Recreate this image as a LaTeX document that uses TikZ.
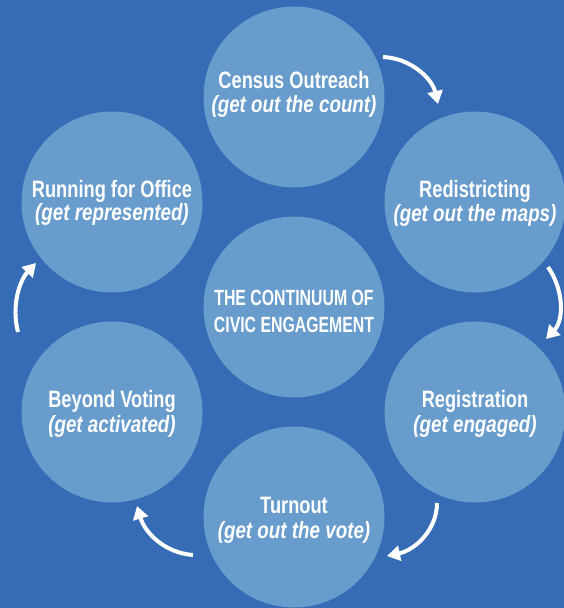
\documentclass[tikz,border=0pt]{standalone}
\usepackage{fontspec}
\usetikzlibrary{arrows.meta}
\newfontfamily\ttlfont[FakeStretch=0.77]{Liberation Sans Bold}
\newfontfamily\subfont[FakeStretch=0.8]{Liberation Sans Bold Italic}
\newfontfamily\capfont[FakeStretch=0.72]{Liberation Sans Bold}
\definecolor{bgblue}{RGB}{54,108,181}
\definecolor{cblue}{RGB}{104,156,204}
\begin{document}
\begin{tikzpicture}[x=1pt,y=-1pt,
  disc/.style={circle, fill=cblue, minimum size=181pt, inner sep=0pt},
  ttl/.style={anchor=base, text=white, font=\ttlfont\fontsize{23.7}{26}\selectfont, inner sep=0pt},
  sub/.style={anchor=base, text=white, font=\subfont\fontsize{23.5}{26}\selectfont, inner sep=0pt},
  captxt/.style={anchor=base, text=white, font=\capfont\fontsize{22}{26}\selectfont, inner sep=0pt},
  flow/.style={white, line width=4pt, -{Triangle[width=15pt,length=13pt]}}]
\useasboundingbox (0,0) rectangle (564,608);
\clip (0,0) rectangle (564,608);
\fill[bgblue] (0,0) rectangle (564,608);
% circles
\node[disc] (census) at (294,97) {};
\node[disc] (redis) at (475,202) {};
\node[disc] (regis) at (475,412) {};
\node[disc] (turn) at (294,517) {};
\node[disc] (beyond) at (112,412) {};
\node[disc] (run) at (112,202) {};
\node[disc] (center) at (294,307) {};
% texts
\node[ttl] (censusT) at (294,88) {Census Outreach};
\node[sub] (censusS) at (294,112) {(get out the count)};
\node[ttl] (redisT) at (475,197) {Redistricting};
\node[sub] (redisS) at (475,221) {(get out the maps)};
\node[ttl] (regisT) at (475,407) {Registration};
\node[sub] (regisS) at (475,432) {(get engaged)};
\node[ttl] (turnT) at (294,513) {Turnout};
\node[sub] (turnS) at (294,538) {(get out the vote)};
\node[ttl] (beyondT) at (112,407) {Beyond Voting};
\node[sub] (beyondS) at (112,432) {(get activated)};
\node[ttl] (runT) at (112,197) {Running for Office};
\node[sub] (runS) at (112,220) {(get represented)};
\node[captxt] (centerA) at (294,305) {THE CONTINUUM OF};
\node[captxt] (centerB) at (294,332) {CIVIC ENGAGEMENT};
% arrow end points
\coordinate (a1s) at (383,57);  \coordinate (a1e) at (438,104);
\coordinate (a2s) at (548,267); \coordinate (a2e) at (546,339);
\coordinate (a3s) at (437,503); \coordinate (a3e) at (387,556);
\coordinate (a4s) at (193,555); \coordinate (a4e) at (137,506);
\coordinate (a5s) at (18,332);  \coordinate (a5e) at (36,263);
\draw[flow] (a1s) .. controls (410,58) and (432,78) .. (a1e);
\draw[flow] (a2s) .. controls (564,290) and (564,320) .. (a2e);
\draw[flow] (a3s) .. controls (437,530) and (415,550) .. (a3e);
\draw[flow] (a4s) .. controls (165,553) and (145,533) .. (a4e);
\draw[flow] (a5s) .. controls (11,305) and (20,280) .. (a5e);
\end{tikzpicture}
\end{document}
